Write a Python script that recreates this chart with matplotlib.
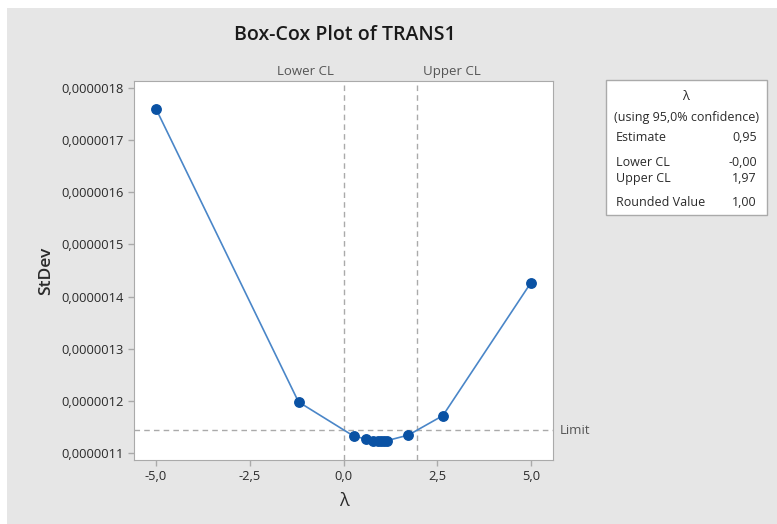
import matplotlib.pyplot as plt
import matplotlib.patches as mpatches
from matplotlib.ticker import FuncFormatter

# lambda values and corresponding StDev
lambdas = [-5.0, -1.2, 0.27, 0.61, 0.80, 0.91, 0.99, 1.09, 1.17, 1.73, 2.65, 5.0]
stdev = [1.760e-6, 1.198e-6, 1.1325e-6, 1.1268e-6, 1.1239e-6, 1.1229e-6,
         1.1229e-6, 1.1230e-6, 1.1239e-6, 1.1344e-6, 1.1717e-6, 1.4268e-6]

lower_cl = 0.0
upper_cl = 1.97
limit = 1.144e-6

x_ticks = [-5.0, -2.5, 0.0, 2.5, 5.0]
y_ticks = [1.1e-6, 1.2e-6, 1.3e-6, 1.4e-6, 1.5e-6, 1.6e-6, 1.7e-6, 1.8e-6]

table_rows = [("Estimate", "0,95"), ("Lower CL", "-0,00"),
              ("Upper CL", "1,97"), ("Rounded Value", "1,00")]

plt.rcParams["font.family"] = ["Open Sans", "DejaVu Sans"]
txt = "#2a2a2a"
bg = "#e6e6e6"

fig = plt.figure(figsize=(7.77, 5.24), dpi=100)
fig.patch.set_facecolor("white")
fig.patches.append(mpatches.Rectangle((7 / 777, 0), 1, 1 - 8 / 524,
                                      transform=fig.transFigure,
                                      facecolor=bg, edgecolor="none", zorder=-10))

ax = fig.add_axes([134 / 777, 64 / 524, 419 / 777, 379 / 524])
ax.set_facecolor("white")

ax.axvline(lower_cl, color="#aaaaaa", ls=(0, (4, 3)), lw=1.0, zorder=1)
ax.axvline(upper_cl, color="#aaaaaa", ls=(0, (4, 3)), lw=1.0, zorder=1)
ax.axhline(limit, color="#aaaaaa", ls=(0, (4, 3)), lw=1.0, zorder=1)

ax.plot(lambdas, stdev, color="#4a86c8", lw=1.2, marker="o", markersize=6.8,
        markerfacecolor="#0a52a4", markeredgecolor="#0a52a4", zorder=3)

ax.set_xlim(-5.587, 5.587)
ax.set_ylim(1.0866e-6, 1.8134e-6)
ax.set_xticks(x_ticks)
ax.set_yticks(y_ticks)
ax.xaxis.set_major_formatter(FuncFormatter(lambda v, p: f"{v:.1f}".replace(".", ",")))
ax.yaxis.set_major_formatter(FuncFormatter(lambda v, p: f"{v:.7f}".replace(".", ",")))
ax.tick_params(colors="#aaaaaa", labelcolor=txt, labelsize=9.3, length=4, width=1)
for s in ax.spines.values():
    s.set_color("#aaaaaa")

ax.set_xlabel("λ", fontsize=13, color=txt, labelpad=6)
ax.set_ylabel("StDev", fontsize=12.5, color=txt, labelpad=5, fontweight="semibold")

ax.text(lower_cl - 0.25, 1.008, "Lower CL", transform=ax.get_xaxis_transform(),
        ha="right", va="bottom", fontsize=9.5, color="#555555")
ax.text(upper_cl + 0.15, 1.008, "Upper CL", transform=ax.get_xaxis_transform(),
        ha="left", va="bottom", fontsize=9.5, color="#555555")
ax.text(1.015, limit, "Limit", transform=ax.get_yaxis_transform(),
        ha="left", va="center", fontsize=9.5, color="#555555")

fig.text(345 / 777, 1 - 35 / 524, "Box-Cox Plot of TRANS1", ha="center",
         va="center", fontsize=14, color="#1a1a1a", fontweight="semibold")

# lambda summary box
box = mpatches.Rectangle((606 / 777, 1 - 215 / 524), 161 / 777, 135 / 524,
                         transform=fig.transFigure, facecolor="white",
                         edgecolor="#aaaaaa", lw=1.0)
fig.patches.append(box)
fig.text(686 / 777, 1 - 97 / 524, "λ", ha="center", va="center", fontsize=9.3, color=txt)
fig.text(686 / 777, 1 - 117 / 524, "(using 95,0% confidence)", ha="center",
         va="center", fontsize=9, color=txt)
for (lab, val), yy in zip(table_rows, [137, 162, 179, 203]):
    fig.text(616 / 777, 1 - yy / 524, lab, ha="left", va="center", fontsize=9, color=txt)
    fig.text(757 / 777, 1 - yy / 524, val, ha="right", va="center", fontsize=9, color=txt)

fig.savefig("out.png", dpi=100)
